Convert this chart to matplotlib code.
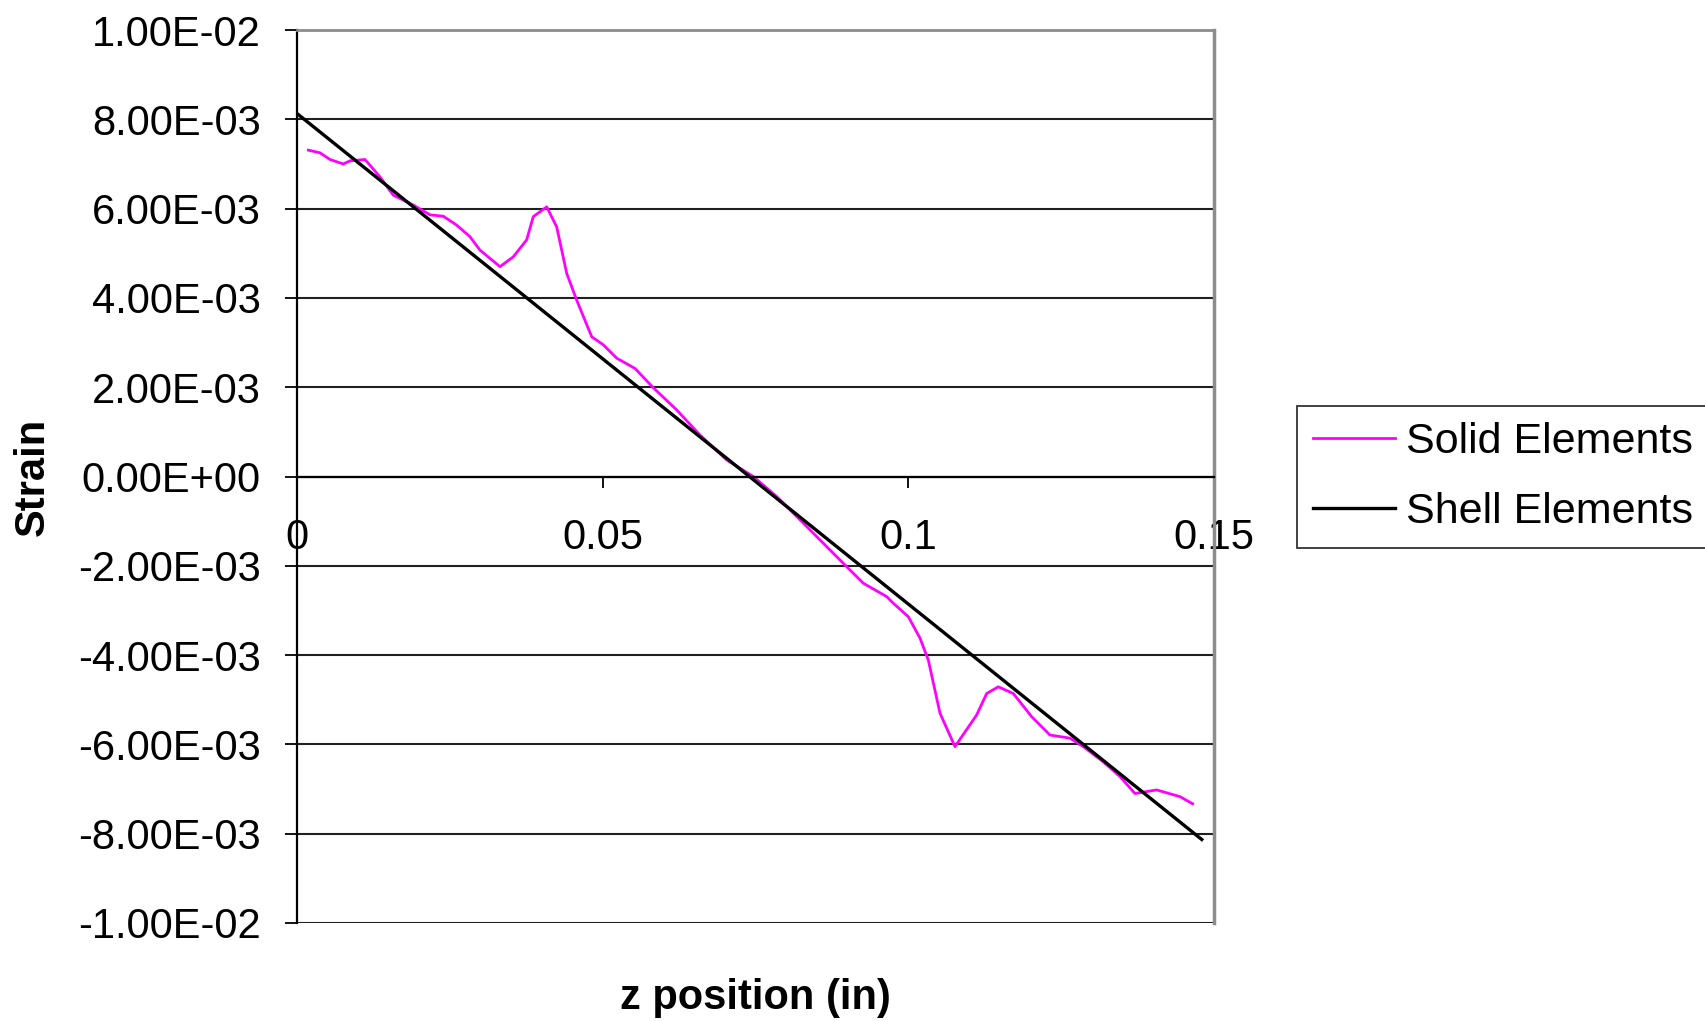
import matplotlib
matplotlib.use("Agg")
import matplotlib.pyplot as plt
from matplotlib.ticker import FixedLocator, FixedFormatter

plt.rcParams['font.family'] = ['Liberation Sans', 'DejaVu Sans']

# Solid elements (curva)
solid_z = [0.00185, 0.00376, 0.0054, 0.00757, 0.00867, 0.01112, 0.01358, 0.01575,
           0.01902, 0.02176, 0.02393, 0.02612, 0.0283, 0.02993, 0.0332, 0.03538,
           0.03757, 0.03865, 0.04085, 0.04248, 0.04412, 0.04575, 0.04821, 0.0501,
           0.0523, 0.05529, 0.05828, 0.06211, 0.06592, 0.07029, 0.07464, 0.07847,
           0.08228, 0.08555, 0.08992, 0.09263, 0.09646, 0.09755, 0.1, 0.10191,
           0.10327, 0.10518, 0.10763, 0.11118, 0.11282, 0.11472, 0.11717, 0.12018,
           0.12317, 0.12644, 0.12862, 0.13189, 0.13462, 0.13707, 0.14062, 0.14444,
           0.14651]
solid_strain = [7.31e-3, 7.25e-3, 7.10e-3, 7.00e-3, 7.07e-3, 7.10e-3, 6.71e-3, 6.30e-3,
                6.08e-3, 5.86e-3, 5.83e-3, 5.63e-3, 5.37e-3, 5.07e-3, 4.70e-3, 4.92e-3,
                5.30e-3, 5.82e-3, 6.04e-3, 5.59e-3, 4.55e-3, 3.95e-3, 3.13e-3, 2.95e-3,
                2.65e-3, 2.42e-3, 1.99e-3, 1.49e-3, 0.93e-3, 0.37e-3, 0.0, -0.45e-3,
                -0.97e-3, -1.42e-3, -2.02e-3, -2.39e-3, -2.69e-3, -2.84e-3, -3.14e-3, -3.62e-3,
                -4.11e-3, -5.30e-3, -6.05e-3, -5.34e-3, -4.86e-3, -4.71e-3, -4.86e-3, -5.38e-3,
                -5.79e-3, -5.86e-3, -6.05e-3, -6.39e-3, -6.72e-3, -7.10e-3, -7.02e-3, -7.17e-3,
                -7.33e-3]

# Shell elements (recta)
shell_z = [0.0, 0.148]
shell_strain = [8.13e-3, -8.13e-3]

xticks = [0, 0.05, 0.1, 0.15]
xtick_labels = ["0", "0.05", "0.1", "0.15"]
yticks = [-0.01, -0.008, -0.006, -0.004, -0.002, 0.0, 0.002, 0.004, 0.006, 0.008, 0.01]
ytick_labels = ["-1.00E-02", "-8.00E-03", "-6.00E-03", "-4.00E-03", "-2.00E-03", "0.00E+00",
                "2.00E-03", "4.00E-03", "6.00E-03", "8.00E-03", "1.00E-02"]

fig = plt.figure(figsize=(17.06, 10.21), dpi=100)
ax = fig.add_axes([0.17409, 0.0960, 0.5375, 0.8746])

ax.plot(solid_z, solid_strain, color="#FF00FF", linewidth=2.0, label="Solid Elements")
ax.plot(shell_z, shell_strain, color="black", linewidth=2.4, label="Shell Elements")

ax.set_xlim(0, 0.15)
ax.set_ylim(-0.01, 0.01)
ax.xaxis.set_major_locator(FixedLocator(xticks))
ax.xaxis.set_major_formatter(FixedFormatter(xtick_labels))
ax.yaxis.set_major_locator(FixedLocator(yticks))
ax.yaxis.set_major_formatter(FixedFormatter(ytick_labels))

# lineas horizontales tipo Excel
ax.grid(True, axis='y', color="#202020", linewidth=1.5)
ax.grid(False, axis='x')

ax.spines['bottom'].set_position(('data', 0))
ax.spines['bottom'].set_color("black")
ax.spines['bottom'].set_linewidth(1.6)
ax.spines['left'].set_color("black")
ax.spines['left'].set_linewidth(1.6)
ax.spines['top'].set_color("#8c8c8c")
ax.spines['top'].set_linewidth(2)
ax.spines['right'].set_color("#8c8c8c")
ax.spines['right'].set_linewidth(2.5)

ax.tick_params(axis='x', direction='out', length=8, width=1.3, pad=22, labelsize=30)
ax.tick_params(axis='y', direction='out', length=9, width=1.3, pad=17, labelsize=30)

ax.set_xlabel("z position (in)", fontsize=30, fontweight='bold')
ax.xaxis.set_label_coords(0.5, -0.062)
ax.set_ylabel("Strain", fontsize=30, fontweight='bold')
ax.yaxis.set_label_coords(-0.266, 0.5)

leg = fig.legend(loc='upper left', bbox_to_anchor=(0.7603, 0.6024), fontsize=31,
                 frameon=True, fancybox=False, edgecolor="black", handlelength=1.9,
                 handletextpad=0.25, borderpad=0.38, labelspacing=0.68, borderaxespad=0)
leg.get_frame().set_linewidth(1.3)

plt.savefig("out.png", dpi=100)
